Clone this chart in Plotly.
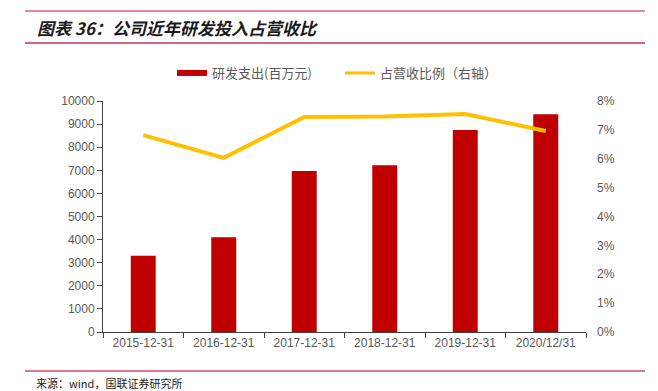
import plotly.graph_objects as go

categories = ["2015-12-31", "2016-12-31", "2017-12-31", "2018-12-31", "2019-12-31", "2020/12/31"]
rd_expense = [3300, 4100, 6970, 7220, 8740, 9430]
rd_ratio = [6.82, 6.03, 7.45, 7.46, 7.55, 6.96]
left_ticks = list(range(0, 10001, 1000))
right_ticks = list(range(0, 9))

W, H = 658, 391
L, R, T, B = 103, 586, 101, 332

def px(x):
    return (x - L) / (R - L)

def py(y):
    return (B - y) / (B - T)

fig = go.Figure()
fig.add_trace(go.Bar(x=categories, y=rd_expense, marker_color="#C00000",
                     marker_line_width=0, width=0.31, showlegend=False, yaxis="y"))
fig.add_trace(go.Scatter(x=categories, y=rd_ratio, mode="lines",
                         line=dict(color="#FFC000", width=4), showlegend=False, yaxis="y2"))
# legend-only entries
fig.add_trace(go.Scatter(x=[None], y=[None], mode="lines", name="研发支出(百万元)",
                         line=dict(color="#C00000", width=6)))
fig.add_trace(go.Scatter(x=[None], y=[None], mode="lines", name="占营收比例（右轴）",
                         line=dict(color="#FFC000", width=3)))

axis_font = dict(family="Liberation Sans, Arial", size=12, color="#595959")
fig.update_layout(
    width=W, height=H,
    margin=dict(l=L, r=W - R, t=T, b=H - B),
    plot_bgcolor="white", paper_bgcolor="white",
    xaxis=dict(type="category", showline=True, linecolor="#404040", linewidth=1,
               ticks="outside", tickson="boundaries", ticklen=5, tickcolor="#404040",
               tickfont=axis_font, showgrid=False),
    yaxis=dict(range=[0, 10000], tickvals=left_ticks, ticktext=[str(v) for v in left_ticks],
               showline=True, linecolor="#404040",
               linewidth=1, ticks="outside", ticklen=5, tickcolor="#404040",
               tickfont=axis_font, showgrid=False, zeroline=False),
    yaxis2=dict(range=[0, 8], tickvals=right_ticks, ticktext=[f"{v}%" for v in right_ticks],
                overlaying="y", side="right", showline=False, showgrid=False,
                tickfont=axis_font, zeroline=False, ticks="", ticklabelstandoff=10),
    legend=dict(orientation="h", x=px(172), xanchor="left", y=py(73), yanchor="middle",
                font=dict(family="Noto Sans CJK SC", size=13, color="#595959"),
                itemwidth=30, tracegroupgap=0, entrywidth=123, entrywidthmode="pixels"),
    showlegend=True,
    bargap=0.5,
)

fig.add_shape(type="line", xref="paper", yref="paper", x0=px(25), x1=px(645),
              y0=py(11), y1=py(11), line=dict(color="#E8899E", width=2))
fig.add_shape(type="line", xref="paper", yref="paper", x0=px(25), x1=px(645),
              y0=py(43), y1=py(43), line=dict(color="#C8325A", width=1.5))
fig.add_shape(type="line", xref="paper", yref="paper", x0=px(25), x1=px(645),
              y0=py(371), y1=py(371), line=dict(color="#D04A6A", width=1.5))

fig.add_annotation(text="<i>图表 36：公司近年研发投入占营收比</i>", xref="paper", yref="paper",
                   x=px(35), y=py(28), xanchor="left", yanchor="middle", showarrow=False,
                   font=dict(family="Noto Sans CJK SC", size=17, color="#1a1a1a", weight=600))
fig.add_annotation(text="来源：wind，国联证券研究所", xref="paper", yref="paper",
                   x=px(34), y=py(383), xanchor="left", yanchor="middle", showarrow=False,
                   font=dict(family="Noto Sans CJK SC", size=11, color="#1a1a1a"))

fig.write_html("out.html", config={"displayModeBar": False})
with open("out.html", encoding="utf-8") as f:
    html = f.read()
html = html.replace("<head>", "<head><style>html,body{margin:0;padding:0;}</style>", 1)
with open("out.html", "w", encoding="utf-8") as f:
    f.write(html)
